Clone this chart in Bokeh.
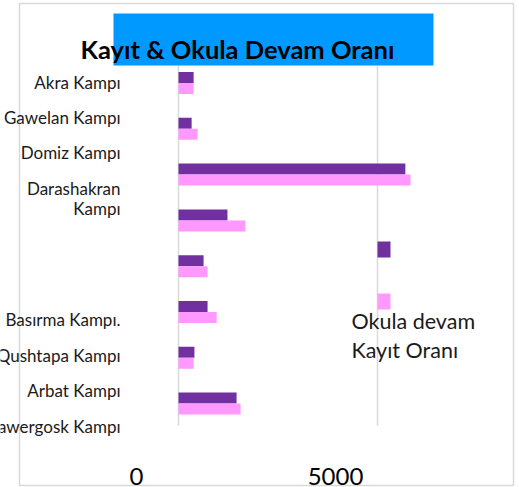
from bokeh.plotting import figure
from bokeh.models import Range1d
from bokeh.embed import file_html
from bokeh.resources import INLINE
from bokeh.core.properties import value

# ---------------- data ----------------
camps = ["Akra Kampı", "Gawelan Kampı", "Domiz Kampı", "Darashakran Kampı",
         "Basırma Kampı.", "Qushtapa Kampı", "Arbat Kampı", "Kawergosk Kampı"]
okula_devam = [380, 330, 5700, 1230, 630, 730, 400, 1460]
kayit_orani = [380, 480, 5830, 1680, 730, 960, 380, 1560]
x_ticks = [0, 5000]
title_text = "Kayıt & Okula Devam Oranı"
series_names = ["Okula devam", "Kayıt Oranı"]

# ---------------- layout / style ----------------
W, H = 519, 487
FONT = value("Lato")
PURPLE, PINK, BLUE, GRID = "#7030a0", "#ff99ff", "#0099ff", "#d9d9d9"
X0_PX = 178.0                 # pixel of value 0
PX_PER_UNIT = 199.0 / 5000.0
ROW0_PX, ROW_PX = 82.5, 45.8  # first bar-group centre and spacing
BAR_PX = 11.0
GRID_TOP, GRID_BOTTOM = 65, 425
LABEL_RIGHT = 120
label_center_px = [82, 116.5, 152, 198, 319, 354.5, 390, 426]

x_range = Range1d(-X0_PX / PX_PER_UNIT, (W - X0_PX) / PX_PER_UNIT)
y_range = Range1d((H - ROW0_PX) / ROW_PX, -ROW0_PX / ROW_PX)

p = figure(width=W, height=H, x_range=x_range, y_range=y_range,
           output_backend="svg", toolbar_location=None, min_border=0,
           x_axis_location=None, y_axis_location=None,
           outline_line_color=None, background_fill_color="white",
           border_fill_color="white")
p.styles = {"position": "absolute", "left": "0px", "top": "0px"}
p.extra_x_ranges = {"px": Range1d(0, W)}
p.extra_y_ranges = {"px": Range1d(H, 0)}
p.grid.visible = False

# outer chart border
p.quad(left=[19], right=[513], top=[3], bottom=[485], x_range_name="px", y_range_name="px",
       fill_color=None, line_color=GRID, line_width=1.5)

# vertical grid lines at tick values
p.segment(x0=x_ticks, x1=x_ticks, y0=[GRID_TOP] * len(x_ticks), y1=[GRID_BOTTOM] * len(x_ticks),
          y_range_name="px", line_color=GRID, line_width=1.5)

# bars
idx = list(range(len(camps)))
off = BAR_PX / 2 / ROW_PX
hb = BAR_PX / ROW_PX
p.hbar(y=[i - off for i in idx], left=0, right=okula_devam, height=hb,
       fill_color=PURPLE, line_color=None)
p.hbar(y=[i + off for i in idx], left=0, right=kayit_orani, height=hb,
       fill_color=PINK, line_color=None)

# title box + title
p.quad(left=[113], right=[433], top=[13], bottom=[65], x_range_name="px", y_range_name="px",
       fill_color=BLUE, line_color=None)
p.text(x=[237], y=[48.5], text=[title_text], x_range_name="px", y_range_name="px",
       text_font=FONT, text_font_style="bold", text_font_size="25.5px",
       text_align="center", text_baseline="middle", text_color="black")

# category labels
labels = [c.replace(" ", "\n", 1) if len(c) > 15 else c for c in camps]
p.text(x=[LABEL_RIGHT] * len(labels), y=label_center_px, text=labels,
       x_range_name="px", y_range_name="px", text_font=FONT, text_font_size="17px",
       text_align="right", text_baseline="middle", text_color="#1a1a1a",
       text_line_height=0.93)

# x tick labels (shifted left as in the reference)
p.text(x=x_ticks, y=[475.5] * len(x_ticks), text=[str(t) for t in x_ticks],
       y_range_name="px", x_offset=-42, text_font=FONT, text_font_size="24px",
       text_align="center", text_baseline="middle", text_color="black")

# legend
p.quad(left=[377, 377], right=[390, 390], top=[241, 293], bottom=[257, 309],
       x_range_name="px", y_range_name="px", fill_color=[PURPLE, PINK], line_color=None)
p.text(x=[351, 351], y=[320.5, 349], text=series_names, x_range_name="px", y_range_name="px",
       text_font=FONT, text_font_size="21.5px", text_align="left",
       text_baseline="middle", text_color="#1a1a1a")

open("out.html", "w").write(file_html(p, INLINE))
